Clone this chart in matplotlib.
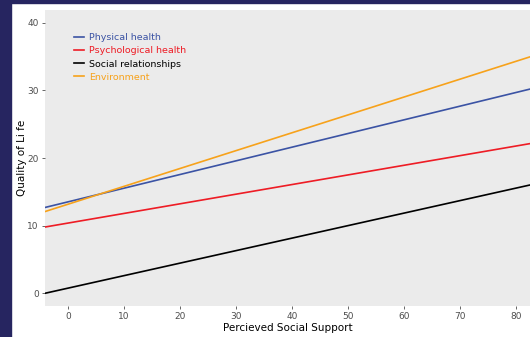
import numpy as np
import matplotlib.pyplot as plt
from matplotlib.patches import Rectangle

# fitted lines: quality of life vs perceived social support
support = np.array([-4.0, 83.0])
physical = np.array([12.7, 30.3])
psychological = np.array([9.8, 22.2])
social = np.array([0.0, 16.1])
environment = np.array([12.1, 35.1])

names = ['Physical health', 'Psychological health', 'Social relationships', 'Environment']
colors = ['#3B53A4', '#EE1C25', '#000000', '#F7A21B']
series = [physical, psychological, social, environment]

W, H = 530, 337
fig = plt.figure(figsize=(W / 100, H / 100), dpi=100)
fig.patch.set_facecolor('white')

# dark frame on left and top
fig.add_artist(Rectangle((0, 0), 11 / W, 1, transform=fig.transFigure, color='#262560', zorder=0))
fig.add_artist(Rectangle((0, 1 - 3 / H), 1, 3 / H, transform=fig.transFigure, color='#262560', zorder=0))

ax = fig.add_axes([45 / W, 1 - 306 / H, (W - 45) / W, (306 - 10) / H])
ax.set_facecolor('#EBEBEB')
for s in ax.spines.values():
    s.set_visible(False)

for name, c, y in zip(names, colors, series):
    ax.plot(support, y, color=c, lw=1.2, label=name)

ax.set_xlim(-4.1, 82.5)
ax.set_ylim(-1.9, 41.9)
ax.set_xticks(np.arange(0, 81, 10))
ax.set_yticks(np.arange(0, 41, 10))
ax.tick_params(colors='#4D4D4D', labelsize=6.5, length=2.5, width=0.6, pad=2)
ax.set_xlabel('Percieved Social Support', fontsize=7.5, labelpad=1)
ax.set_ylabel('Quality of Li fe', fontsize=7.5, labelpad=0)

leg = ax.legend(loc='upper left', bbox_to_anchor=(0.052, 0.935), frameon=False,
                fontsize=6.8, handlelength=1.1, handletextpad=0.45, labelspacing=0.45,
                borderaxespad=0)
for txt, c in zip(leg.get_texts(), colors):
    txt.set_color(c)

fig.savefig('out.png', dpi=100)
